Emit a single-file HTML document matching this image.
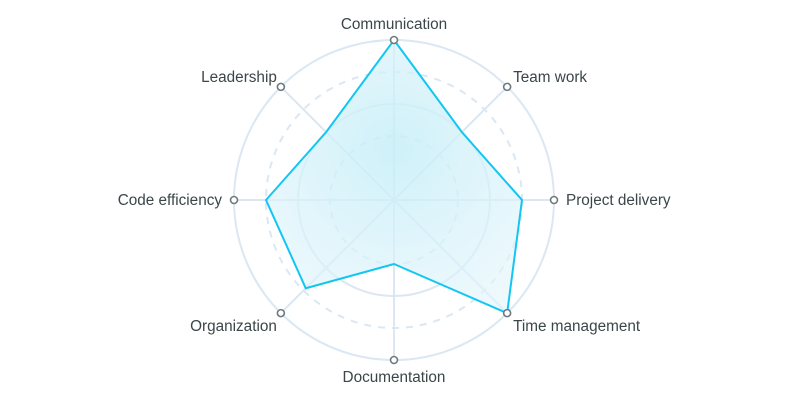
<!DOCTYPE html>
<html><head><meta charset="utf-8"><style>
html,body{margin:0;padding:0;background:#fff;width:788px;height:400px;overflow:hidden}
svg text{font-family:"Liberation Sans",sans-serif;font-size:15.3px;fill:#3a4648}
</style></head><body>
<svg id="chart" width="788" height="400" viewBox="0 0 788 400" xmlns="http://www.w3.org/2000/svg">
<defs>
<radialGradient id="fillGrad" cx="394" cy="150" r="190" gradientUnits="userSpaceOnUse">
<stop offset="0" stop-color="#c6eef8" stop-opacity="0.85"/>
<stop offset="1" stop-color="#e4f5fb" stop-opacity="0.6"/>
</radialGradient>
</defs>
</svg>
<script>
const categories=["Communication","Team work","Project delivery","Time management","Documentation","Organization","Code efficiency","Leadership"];
const values=[100,60,80,100,40,78,80,60];
const maxValue=100;
const gridLevels=[40,60,80,100];
const gridDashed=[true,false,true,false];

const svg=document.getElementById('chart');
const NS='http://www.w3.org/2000/svg';
const cx=394,cy=200,R=160;
function rScale(v){return v/maxValue*R;}
function angle(i){return -Math.PI/2+i*2*Math.PI/categories.length;}
function pt(i,v){const a=angle(i),r=rScale(v);return [cx+r*Math.cos(a),cy+r*Math.sin(a)];}
function mk(tag,attrs){const e=document.createElementNS(NS,tag);for(const k in attrs)e.setAttribute(k,attrs[k]);svg.appendChild(e);return e;}

gridLevels.forEach((lv,j)=>{
  const c=mk('circle',{cx:cx,cy:cy,r:rScale(lv),fill:'none',stroke:'#dbe7f2','stroke-width':2,'stroke-dasharray':gridDashed[j]?'7 7':'none'});
  
  
});
categories.forEach((c,i)=>{
  const [x,y]=pt(i,maxValue);
  const l=mk('line',{x1:cx,y1:cy,x2:x,y2:y,stroke:'#dbe7f2','stroke-width':2});
  
  
});
const poly=mk('polygon',{points:values.map((v,i)=>pt(i,v).join(',')).join(' '),fill:'url(#fillGrad)',stroke:'#12c6f2','stroke-width':2,'stroke-linejoin':'miter'});



categories.forEach((c,i)=>{
  const [x,y]=pt(i,maxValue);
  const m=mk('circle',{cx:x,cy:y,r:3.5,fill:'#fff',stroke:'#6f7a7e','stroke-width':1.6});
  
  
  const a=angle(i),cs=Math.cos(a),sn=Math.sin(a);
  let anchor='middle',tx=x,ty=y;
  if(Math.abs(cs)<0.01){ty=sn<0?y-11:y+22;}
  else{
    anchor=cs>0?'start':'end';
    tx=x+(cs>0?6:-4);
    if(Math.abs(sn)<0.01){tx=x+(cs>0?12:-12);ty=y+5;}
    else ty=sn<0?y-5:y+18;
  }
  const t=mk('text',{x:tx,y:ty,'text-anchor':anchor});
  t.textContent=c;
  
  
});
</script>
</body></html>
